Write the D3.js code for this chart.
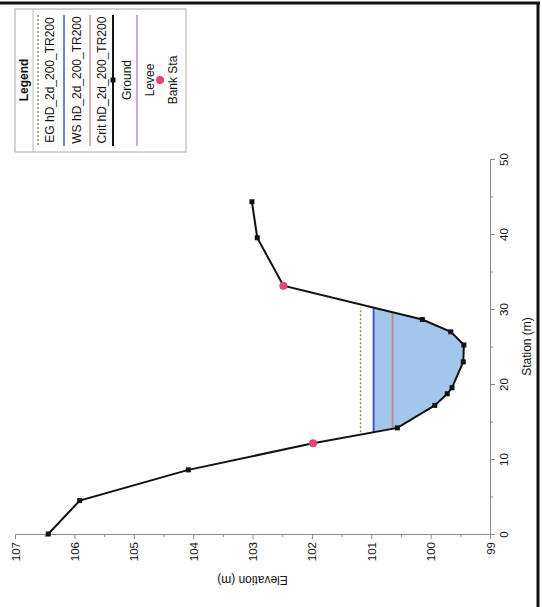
<!DOCTYPE html>
<html><head><meta charset="utf-8">
<script src="https://cdn.jsdelivr.net/npm/d3@7"></script>
<style>
html,body{margin:0;padding:0;background:#fff;}
text{font-family:"Liberation Sans",Arial,sans-serif;fill:#111;}
</style>
</head><body>
<svg id="c" width="542" height="607"></svg>
<script>
// ---- data ----
const stations   = [0, 4.45, 8.55, 12.1, 14.15, 17.15, 18.7, 19.5, 22.95, 25.2, 26.95, 28.6, 33.1, 39.5, 44.3];
const elevations = [106.44, 105.91, 104.08, 101.98, 100.56, 99.93, 99.72, 99.64, 99.45, 99.44, 99.66, 100.14, 102.48, 102.92, 103.01];
const bankStations = [12.1, 33.1];
const egElev = 101.18;
const wsElev = 100.96;
const critElev = 100.64;
const elevTicks = [99, 100, 101, 102, 103, 104, 105, 106, 107];
const elevMinorTicks = [99.5, 100.5, 101.5, 102.5, 103.5, 104.5, 105.5, 106.5];
const stationTicks = [0, 10, 20, 30, 40, 50];
const stationMinorTicks = [5, 15, 25, 35, 45];
const legendTitle = "Legend";
const legendLabels = ["EG hD_2d_200_TR200", "WS hD_2d_200_TR200", "Crit hD_2d_200_TR200", "Ground", "Levee", "Bank Sta"];
const elevTitle = "Elevation (m)";
const stationTitle = "Station (m)";

// ---- chart (rotated 90° CCW: elevation runs horizontally, station vertically) ----
const svg = d3.select("#c");
const x = d3.scaleLinear().domain([107, 99]).range([15, 490]);
const y = d3.scaleLinear().domain([0, 50]).range([534, 159]);

const ground = stations.map((s, i) => ({s, e: elevations[i]}));
const bankPts = bankStations.map(b => ground.find(g => g.s === b));

function crossings(level) {
  const iMin = d3.minIndex(ground, d => d.e);
  let i = iMin; while (i > 0 && ground[i - 1].e < level) i--;
  const a = ground[i - 1], b = ground[i];
  const sL = a.s + (level - a.e) / (b.e - a.e) * (b.s - a.s);
  let j = iMin; while (j < ground.length - 1 && ground[j + 1].e < level) j++;
  const c = ground[j], d = ground[j + 1];
  const sR = c.s + (level - c.e) / (d.e - c.e) * (d.s - c.s);
  return {sL, sR, i, j};
}

const ws = crossings(wsElev);
const cr = crossings(critElev);

// water fill
const poly = [{s: ws.sL, e: wsElev}].concat(ground.slice(ws.i, ws.j + 1)).concat([{s: ws.sR, e: wsElev}]);
svg.append("path")
  .attr("d", d3.line().x(d => x(d.e)).y(d => y(d.s))(poly) + "Z")
  .attr("fill", "#a4c6ec").attr("stroke", "none");

// EG
svg.append("line")
  .attr("x1", x(egElev)).attr("x2", x(egElev)).attr("y1", y(ws.sL)).attr("y2", y(ws.sR))
  .attr("stroke", "#7d9a4c").attr("stroke-width", 1.5).attr("stroke-dasharray", "2,2");
// WS
svg.append("line")
  .attr("x1", x(wsElev)).attr("x2", x(wsElev)).attr("y1", y(ws.sL)).attr("y2", y(ws.sR))
  .attr("stroke", "#4257c9").attr("stroke-width", 2);
// Crit
svg.append("line")
  .attr("x1", x(critElev)).attr("x2", x(critElev)).attr("y1", y(cr.sL)).attr("y2", y(cr.sR))
  .attr("stroke", "#c48a90").attr("stroke-width", 2);

// axes
const axB = d3.axisBottom(x).tickValues(elevTicks).tickSize(5).tickSizeOuter(0).tickFormat(d3.format("d"));
const gB = svg.append("g").attr("transform", "translate(0,534)").call(axB);
svg.append("g").attr("transform", "translate(0,534)")
  .call(d3.axisBottom(x).tickValues(elevMinorTicks).tickSize(3).tickSizeOuter(0).tickFormat(""))
  .select(".domain").remove();
gB.selectAll("text")
  .attr("transform", "rotate(-90)").attr("x", -8).attr("y", 0).attr("dy", "0.35em")
  .attr("text-anchor", "end").style("font-size", "11.5px").style("font-family", "'Liberation Sans', Arial, sans-serif");

const axR = d3.axisRight(y).tickValues(stationTicks).tickSize(5).tickSizeOuter(0).tickFormat(d3.format("d"));
const gR = svg.append("g").attr("transform", "translate(490,0)").call(axR);
svg.append("g").attr("transform", "translate(490,0)")
  .call(d3.axisRight(y).tickValues(stationMinorTicks).tickSize(3).tickSizeOuter(0).tickFormat(""))
  .select(".domain").remove();
gR.selectAll("text")
  .attr("x", 0).attr("y", 0).attr("dy", "0.35em")
  .attr("transform", "translate(14,0) rotate(-90)")
  .attr("text-anchor", "middle").style("font-size", "11.5px").style("font-family", "'Liberation Sans', Arial, sans-serif");
svg.selectAll(".domain, .tick line").attr("stroke", "#8a8a8a");

// axis titles
svg.append("text").attr("transform", `translate(${x(103)},580) rotate(180)`)
  .attr("text-anchor", "middle").attr("dy", "0.35em").style("font-size", "12px").text(elevTitle);
svg.append("text").attr("transform", `translate(527,${(y(0) + y(50)) / 2}) rotate(-90)`)
  .attr("text-anchor", "middle").attr("dy", "0.35em").style("font-size", "12px").text(stationTitle);

// ground
svg.append("path")
  .attr("d", d3.line().x(d => x(d.e)).y(d => y(d.s))(ground))
  .attr("fill", "none").attr("stroke", "#111").attr("stroke-width", 2);
svg.selectAll("rect.gp").data(ground).join("rect").attr("class", "gp")
  .attr("x", d => x(d.e) - 2.5).attr("y", d => y(d.s) - 2.5).attr("width", 5).attr("height", 5)
  .attr("fill", "#111");
svg.selectAll("circle.bank").data(bankPts).join("circle").attr("class", "bank")
  .attr("cx", d => x(d.e)).attr("cy", d => y(d.s)).attr("r", 4)
  .attr("fill", "#e0457e");

// legend
const L = svg.append("g");
L.append("rect").attr("x", 15).attr("y", 9).attr("width", 171).attr("height", 143)
  .attr("fill", "#fff").attr("stroke", "#a8a8a8").attr("stroke-width", 1);
L.append("line").attr("x1", 33).attr("x2", 33).attr("y1", 9).attr("y2", 152).attr("stroke", "#bbb");
L.append("text").attr("transform", "translate(24,80) rotate(-90)").attr("text-anchor", "middle")
  .attr("dy", "0.35em").style("font-size", "12px").style("font-weight", "bold").text(legendTitle);

const legStyle = [
  {lx: 38, tx: 50, stroke: "#7d9a4c", dash: "2,2", w: 1.5},
  {lx: 64, tx: 77, stroke: "#4257c9", dash: null, w: 1.5},
  {lx: 90, tx: 102, stroke: "#d49a9a", dash: null, w: 1.5},
  {lx: 113, tx: 127, stroke: "#111", dash: null, w: 2},
  {lx: 137, tx: 150, stroke: "#b88ad0", dash: null, w: 1.5},
  {lx: 160, tx: 173, stroke: null, dash: null, w: 0}
];
legendLabels.forEach((lab, k) => {
  const st = legStyle[k];
  if (st.stroke) {
    L.append("line").attr("x1", st.lx).attr("x2", st.lx).attr("y1", 15).attr("y2", 146)
      .attr("stroke", st.stroke).attr("stroke-width", st.w).attr("stroke-dasharray", st.dash);
  }
  if (k === 3) L.append("rect").attr("x", st.lx - 2.5).attr("y", 77.5).attr("width", 5).attr("height", 5).attr("fill", "#111");
  if (k === 5) L.append("circle").attr("cx", st.lx).attr("cy", 80).attr("r", 4).attr("fill", "#e0457e");
  L.append("text").attr("transform", `translate(${st.tx},80) rotate(-90)`).attr("text-anchor", "middle")
    .attr("dy", "0.35em").style("font-size", "12px").text(lab);
});

// page border (top and right)
svg.append("line").attr("x1", 0).attr("x2", 540).attr("y1", 3).attr("y2", 3).attr("stroke", "#111").attr("stroke-width", 3);
svg.append("line").attr("x1", 538).attr("x2", 538).attr("y1", 2).attr("y2", 607).attr("stroke", "#111").attr("stroke-width", 3);
</script>
</body></html>
